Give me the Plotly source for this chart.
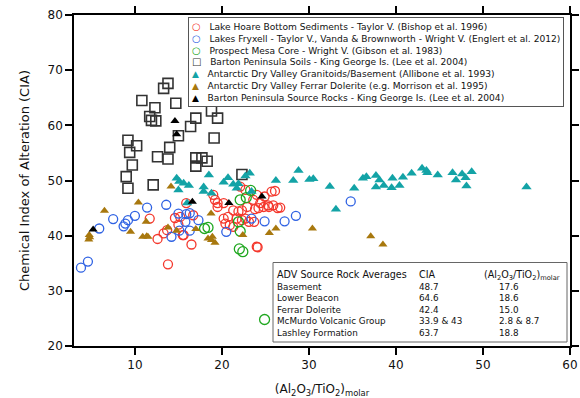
import plotly.graph_objects as go

# ---------------- data ----------------
hoare_x = [15.9, 11.7, 12.6, 13.3, 13.7, 13.8, 14.6, 15.0, 15.5, 16.5, 16.7, 19.0, 19.2, 19.5, 20.2,
           19.5, 22.1, 22.7, 25.7, 24.9, 23.6, 24.0, 25.4, 24.8, 24.2, 26.4, 23.8, 22.9, 22.3, 20.7,
           20.2, 20.4, 20.9, 21.7, 22.3, 21.9, 21.3, 15.2, 15.6, 24.1, 21.3, 22.7, 23.1, 23.7, 24.4,
           25.3, 26.7, 26.1, 25.9, 24.0]
hoare_y = [45.9, 43.1, 39.4, 40.4, 41.0, 34.8, 43.2, 42.0, 40.1, 38.4, 43.7, 47.4, 46.5, 45.9, 45.9,
           45.2, 48.9, 48.3, 48.0, 47.1, 46.5, 47.4, 45.2, 45.2, 45.0, 45.0, 44.8, 45.2, 44.6, 43.4,
           43.1, 42.2, 41.9, 43.1, 42.8, 44.4, 44.6, 43.4, 40.1, 37.9, 41.6, 43.1, 42.5, 42.5, 45.9,
           45.5, 45.1, 48.1, 45.5, 38.0]

fryxell_x = [3.8, 4.6, 5.9, 7.5, 8.7, 8.9, 9.2, 10.0, 11.4, 13.6, 14.2, 15.0, 15.9, 16.3, 15.8,
             16.3, 17.3, 15.1, 20.5, 23.4, 24.9, 27.2, 28.5, 34.8]
fryxell_y = [34.2, 35.3, 41.3, 43.0, 41.7, 42.2, 42.8, 43.6, 45.1, 45.6, 39.8, 44.0, 43.9, 44.1, 42.5,
             40.9, 42.8, 40.9, 40.7, 43.1, 42.6, 42.6, 43.6, 46.2]

mesa_x = [18.0, 18.4, 22.1, 22.8, 23.3, 21.9, 22.1, 22.0, 22.4, 24.9]
mesa_y = [41.3, 41.5, 46.5, 46.9, 48.2, 42.5, 40.8, 37.6, 37.1, 24.8]

soils_x = [13.8, 13.3, 10.8, 14.7, 12.3, 11.7, 11.9, 12.4, 18.8, 19.5, 17.0, 16.4, 15.0, 19.1,
           9.2, 10.2, 9.4, 14.0, 12.6, 13.8, 9.7, 17.0, 17.7, 18.3, 17.0, 9.0, 9.2, 12.1, 22.3]
soils_y = [67.6, 66.7, 64.5, 64.0, 63.2, 61.6, 60.9, 60.8, 62.6, 61.3, 61.3, 59.8, 58.1, 57.7,
           57.3, 56.3, 55.1, 56.0, 54.3, 53.9, 52.8, 54.1, 54.1, 53.5, 52.6, 50.7, 48.6, 49.2, 51.1]

granit_x = [14.8, 15.1, 15.6, 16.2, 15.0, 18.5, 17.9, 17.9, 18.8, 20.2, 20.7, 21.3, 21.9, 22.7,
            23.2, 26.2, 21.7, 23.4, 16.0, 28.2, 28.8, 30.05, 30.5, 32.4, 33.1, 35.2, 36.2, 36.6,
            37.7, 38.1, 37.7, 38.6, 39.5, 39.6, 40.4, 40.8, 41.8, 43.0, 43.5, 43.6, 44.8, 46.5,
            46.9, 47.6, 48.0, 48.7, 48.1, 55.0]
granit_y = [50.4, 49.8, 49.5, 49.1, 48.3, 51.0, 48.8, 48.0, 47.7, 49.7, 50.5, 49.3, 49.4, 50.8,
            51.3, 50.0, 48.6, 48.0, 45.9, 50.0, 51.8, 50.2, 50.3, 48.9, 44.8, 48.6, 50.4, 50.7,
            50.9, 50.1, 48.8, 49.1, 48.7, 50.4, 49.1, 50.6, 51.3, 52.2, 51.8, 51.4, 51.0, 51.4,
            50.1, 51.2, 50.5, 51.6, 49.0, 48.8]

ferrar_x = [4.7, 4.8, 4.75, 6.5, 10.4, 11.3, 9.5, 10.9, 11.35, 11.5, 14.15, 13.8, 14.8, 17.0,
            18.75, 18.4, 18.9, 18.8, 19.2, 22.4, 25.45, 26.2, 30.4, 37.1, 38.5]
ferrar_y = [39.3, 39.7, 40.1, 44.5, 46.0, 42.5, 40.7, 39.8, 39.9, 39.8, 48.9, 41.5, 40.9, 41.2,
            44.0, 39.5, 39.8, 39.2, 38.7, 40.1, 40.5, 41.3, 41.3, 39.9, 38.4]

source_x = [14.6, 14.8, 16.6, 20.8, 24.6, 5.2]
source_y = [60.8, 58.4, 46.15, 45.9, 47.1, 41.1]

series_names = [
    "Lake Hoare Bottom Sediments - Taylor V. (Bishop et al. 1996)",
    "Lakes Fryxell - Taylor V., Vanda &amp; Brownworth - Wright V. (Englert et al. 2012)",
    "Prospect Mesa Core - Wright V. (Gibson et al. 1983)",
    "Barton Peninsula Soils - King George Is. (Lee et al. 2004)",
    "Antarctic Dry Valley Granitoids/Basement (Allibone et al. 1993)",
    "Antarctic Dry Valley Ferrar Dolerite (e.g. Morrison et al. 1995)",
    "Barton Peninsula Source Rocks - King George Is. (Lee et al. 2004)",
]

rock_names = ["Basement", "Lower Beacon", "Ferrar Dolerite", "McMurdo Volcanic Group", "Lashley Formation"]
rock_cia = ["48.7", "64.6", "42.4", "33.9 &amp; 43", "63.7"]
rock_ratio = ["17.6", "18.6", "15.0", "2.8 &amp; 8.7", "18.8"]

x_ticks = [10, 20, 30, 40, 50, 60]
y_ticks = [20, 30, 40, 50, 60, 70, 80]

# ---------------- styles ----------------
RED, BLUE, GREEN = "#F4372C", "#2F62E3", "#1FA71F"
GRAY, TEAL, BROWN, BLACK = "#333333", "#13A3A6", "#A8780E", "#000000"
FONT = "DejaVu Sans, Verdana, sans-serif"

series = [
    (hoare_x, hoare_y, "circle-open", RED, 9, 1.3, "○"),
    (fryxell_x, fryxell_y, "circle-open", BLUE, 9, 1.3, "○"),
    (mesa_x, mesa_y, "circle-open", GREEN, 10, 1.3, "○"),
    (soils_x, soils_y, "square-open", GRAY, 10, 1.6, "□"),
    (granit_x, granit_y, "triangle-up", TEAL, 9, 0, "▲"),
    (ferrar_x, ferrar_y, "triangle-up", BROWN, 8, 0, "▲"),
    (source_x, source_y, "triangle-up", BLACK, 8, 0, "▲"),
]

fig = go.Figure()
for (xs, ys, sym, col, sz, lw, _), name in zip(series, series_names):
    marker = dict(symbol=sym, color=col, size=sz)
    marker["line"] = dict(color=col, width=lw) if lw else dict(width=0)
    fig.add_trace(go.Scatter(x=xs, y=ys, mode="markers", name=name, marker=marker,
                             showlegend=False, hoverinfo="x+y+name"))

# ---------------- layout helpers (pixel -> paper) ----------------
L, R, T, B = 74, 570, 15, 346


def px_x(p):
    return (p - L) / (R - L)


def px_y(p):
    return (B - p) / (B - T)


# ---------------- legend (compact, as text) ----------------
leg_lines = []
for (_, _, _, col, _, _, glyph), name in zip(series, series_names):
    gsize = 10 if glyph != "▲" else 9
    leg_lines.append(f"<span style='color:{col};font-size:{gsize}px'>{glyph}</span>&nbsp;&nbsp;&nbsp;{name}")

annotations = [dict(
    text="<br>".join(leg_lines), xref="paper", yref="paper",
    x=px_x(188), y=px_y(17), xanchor="left", yanchor="top",
    align="left", showarrow=False, font=dict(family=FONT, size=9.1, color="#111"),
    bgcolor="white", bordercolor="#555", borderwidth=1, borderpad=3,
)]

# ---------------- table of averages ----------------
head = [
    dict(text="ADV Source Rock Averages", x=px_x(275), y=px_y(274)),
    dict(text="CIA", x=px_x(417), y=px_y(274)),
    dict(text="(Al<sub>2</sub>O<sub>3</sub>/TiO<sub>2</sub>)<sub>molar</sub>", x=px_x(482), y=px_y(275)),
]
for a in head:
    a.update(xref="paper", yref="paper", showarrow=False, align="left", xanchor="left",
             yanchor="middle", font=dict(family=FONT, size=9.6, color="#111"))
annotations += head

body_font = dict(family=FONT, size=8.8, color="#111")
for col_vals, xpos in ((rock_names, 275), (rock_cia, 417), (rock_ratio, 497)):
    annotations.append(dict(text="<br>".join(col_vals), xref="paper", yref="paper",
                            x=px_x(xpos), y=px_y(280), xanchor="left", yanchor="top",
                            align="left", showarrow=False, font=body_font))

shapes = [dict(type="rect", xref="paper", yref="paper", x0=px_x(273), x1=px_x(567),
               y0=px_y(342), y1=px_y(262.5), fillcolor="white",
               line=dict(color="#666", width=1), layer="above")]

axis_common = dict(showline=True, linecolor="black", linewidth=1.5, mirror="ticks",
                   ticks="outside", ticklen=7, tickwidth=1.5, tickcolor="black",
                   showgrid=False, zeroline=False, automargin=False,
                   tickfont=dict(family=FONT, size=12, color="#111"))

fig.update_layout(
    width=580, height=398,
    margin=dict(l=L, r=580 - R, t=T, b=398 - B, autoexpand=False),
    plot_bgcolor="white", paper_bgcolor="white",
    xaxis=dict(range=[3, 60], tickvals=x_ticks, ticktext=[str(v) for v in x_ticks],
               title=dict(text="(Al<sub>2</sub>O<sub>3</sub>/TiO<sub>2</sub>)<sub>molar</sub>",
                          font=dict(family=FONT, size=12, color="#111")),
               **axis_common),
    yaxis=dict(range=[20, 80], tickvals=y_ticks, ticktext=[str(v) for v in y_ticks],
               title=dict(text="Chemical Index of Alteration (CIA)",
                          font=dict(family=FONT, size=13, color="#111")),
               **axis_common),
    annotations=annotations,
    shapes=shapes,
    showlegend=False,
)

fig.write_html("out.html", config={"displayModeBar": False},
               post_script="document.body.style.margin='0';document.body.style.overflow='hidden';")
